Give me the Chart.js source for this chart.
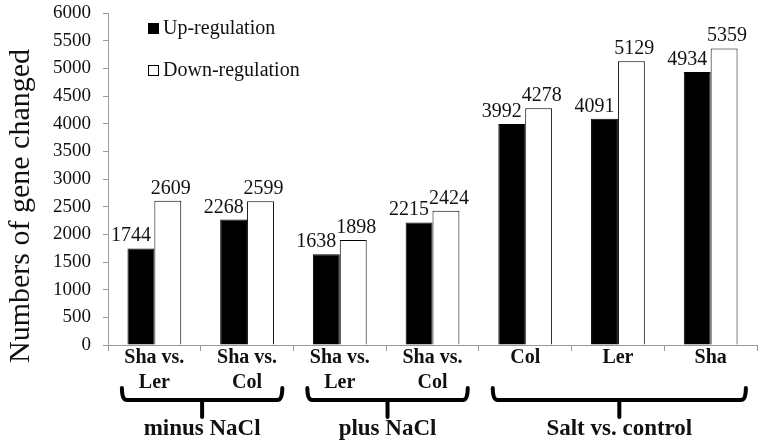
<!DOCTYPE html>
<html>
<head>
<meta charset="utf-8">
<script src="https://cdn.jsdelivr.net/npm/chart.js@4.4.1/dist/chart.umd.min.js"></script>
<style>
    body { margin: 0; background: #fff; }
    canvas { display: block; }
</style>
</head>
<body>
<canvas id="graphique-genes" width="765" height="443"></canvas>
<script>
// Données
const categories = [["Sha vs.", "Ler"], ["Sha vs.", "Col"], ["Sha vs.", "Ler"], ["Sha vs.", "Col"], "Col", "Ler", "Sha"]
const upRegulation = [1744, 2268, 1638, 2215, 3992, 4091, 4934]
const downRegulation = [2609, 2599, 1898, 2424, 4278, 5129, 5359]
const seriesNames = ["Up-regulation", "Down-regulation"]
const groupLabels = ["minus NaCl", "plus NaCl", "Salt vs. control"]
const groupFirst = [0, 2, 4]
const groupLast = [1, 3, 6]
const yTitle = "Numbers of gene changed"

const police = "'Liberation Serif', 'Times New Roman', serif"
Chart.defaults.font.family = police
Chart.defaults.color = "#111"

// valeurs au-dessus des barres
const etiquettesPlugin = {
    id: "etiquettes",
    afterDatasetsDraw(chart) {
        const ctx = chart.ctx
        ctx.save()
        ctx.font = "20px " + police
        ctx.fillStyle = "#111"
        ctx.textAlign = "center"
        ctx.textBaseline = "alphabetic"
        chart.data.datasets.forEach((ds, d) => {
            const meta = chart.getDatasetMeta(d)
            const decalage = d === 0 ? -10 : 3
            meta.data.forEach((bar, i) => {
                ctx.fillText(String(ds.data[i]), bar.x + decalage, bar.y - 7)
            })
        })
        ctx.restore()
    }
}

// légende, titre de l'axe y et accolades des groupes
const decorPlugin = {
    id: "decor",
    afterDraw(chart) {
        const ctx = chart.ctx
        const area = chart.chartArea
        const x = chart.scales.x

        ctx.save()
        // légende
        ctx.font = "20px " + police
        ctx.textBaseline = "middle"
        ctx.textAlign = "left"
        chart.data.datasets.forEach((ds, d) => {
            const yc = area.top + 16 + d * 42
            ctx.fillStyle = ds.backgroundColor
            ctx.fillRect(area.left + 40.5, yc - 5.5, 10, 10)
            ctx.strokeStyle = "#000"
            ctx.lineWidth = 1
            ctx.strokeRect(area.left + 40.5, yc - 5.5, 10, 10)
            ctx.fillStyle = "#111"
            ctx.fillText(ds.label, area.left + 55, yc)
        })

        // titre vertical
        ctx.save()
        ctx.translate(21, 206)
        ctx.rotate(-Math.PI / 2)
        ctx.font = "30px " + police
        ctx.textAlign = "center"
        ctx.textBaseline = "middle"
        ctx.fillText(yTitle, 0, 0)
        ctx.restore()

        // accolades
        const w = x.getPixelForValue(1) - x.getPixelForValue(0)
        const yHaut = area.bottom + 43
        const yMilieu = area.bottom + 55
        const yBas = area.bottom + 72
        ctx.strokeStyle = "#000"
        ctx.lineWidth = 4
        ctx.lineJoin = "round"
        ctx.lineCap = "round"
        ctx.font = "bold 23px " + police
        ctx.textAlign = "center"
        ctx.fillStyle = "#111"
        for (let g = 0; g < groupLabels.length; g++) {
            const gauche = x.getPixelForValue(groupFirst[g]) - 0.35 * w
            const droite = x.getPixelForValue(groupLast[g]) + 0.38 * w
            const centre = (gauche + droite) / 2
            ctx.beginPath()
            ctx.moveTo(gauche, yHaut)
            ctx.quadraticCurveTo(gauche, yMilieu, gauche + 5, yMilieu)
            ctx.lineTo(droite - 5, yMilieu)
            ctx.quadraticCurveTo(droite, yMilieu, droite, yHaut)
            ctx.moveTo(centre, yMilieu)
            ctx.lineTo(centre, yBas)
            ctx.stroke()
            ctx.fillText(groupLabels[g], centre, area.bottom + 84)
        }
        ctx.restore()
    }
}

const data = {
    labels: categories,
    datasets: [{
        label: seriesNames[0],
        data: upRegulation,
        backgroundColor: "#000",
        borderColor: "#000",
        borderWidth: 1
    }, {
        label: seriesNames[1],
        data: downRegulation,
        backgroundColor: "#fff",
        borderColor: "#000",
        borderWidth: 1
    }]
}

const config = {
    type: "bar",
    data: data,
    options: {
        responsive: false,
        animation: false,
        devicePixelRatio: 1,
        layout: { padding: { top: 13, right: 8, left: 0, bottom: 54 } },
        datasets: { bar: { categoryPercentage: 0.58, barPercentage: 1 } },
        plugins: {
            legend: { display: false },
            tooltip: { enabled: false }
        },
        scales: {
            x: {
                grid: { drawOnChartArea: false, tickLength: 6, color: "#999" },
                border: { color: "#999" },
                ticks: {
                    font: { size: 20, weight: "bold", lineHeight: 1.25 },
                    color: "#111",
                    padding: -6,
                    maxRotation: 0,
                    autoSkip: false
                }
            },
            y: {
                min: 0,
                max: 6000,
                afterFit: (scale) => {
                    scale.width = 108
                    scale.paddingTop = 0
                    scale.paddingBottom = 0
                },
                grid: { drawOnChartArea: false, tickLength: 5, color: "#999" },
                border: { color: "#999" },
                ticks: {
                    stepSize: 500,
                    font: { size: 19 },
                    color: "#111",
                    padding: 12,
                    callback: (v) => String(v)
                }
            }
        }
    },
    plugins: [etiquettesPlugin, decorPlugin]
}

const graphique = new Chart(document.querySelector("#graphique-genes"), config)
</script>
</body>
</html>
